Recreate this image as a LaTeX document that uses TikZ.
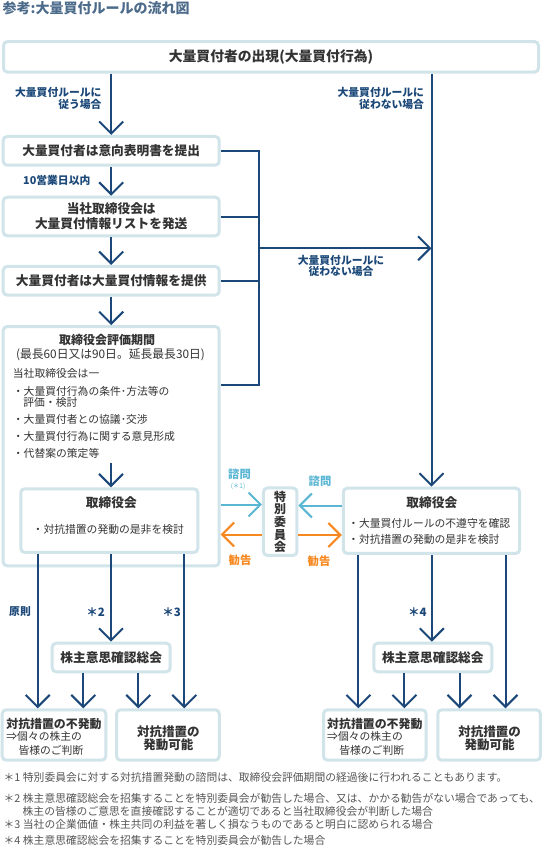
\documentclass[tikz,border=0pt]{standalone}
\usepackage{fontspec}
\setmainfont{Noto Sans CJK JP}
\usetikzlibrary{arrows.meta}
\newcommand{\myfs}[2]{\fontsize{#1}{#2}\selectfont}
\definecolor{bx}{HTML}{D0E4EA}
\definecolor{nv}{HTML}{1B4878}
\definecolor{lbl}{HTML}{5BB6D3}
\definecolor{og}{HTML}{F7881F}
\definecolor{tx}{HTML}{333333}
\definecolor{tt}{HTML}{4C6B8A}
\definecolor{fn}{HTML}{555555}
\tikzset{
  box/.style={draw=bx, line width=3pt, rounded corners=4pt, fill=white, inner sep=0pt, text=tx, align=center},
  bt/.style={text=tx, inner sep=0pt, font=\bfseries\myfs{12.7}{15}, align=center},
  rt/.style={text=tx, inner sep=0pt, font=\myfs{10.8}{13}, anchor=west},
  ln/.style={draw=nv, line width=2pt},
  arr/.style={ln, -{Straight Barb[length=12pt,width=24pt]}},
  barr/.style={draw=lbl, line width=2pt, -{Straight Barb[length=12pt,width=24pt]}},
  oarr/.style={draw=og, line width=2pt, -{Straight Barb[length=12pt,width=24pt]}},
  lab/.style={text=nv, inner sep=0pt, font=\bfseries\myfs{10.8}{11.6}},
  note/.style={text=fn, inner sep=0pt, anchor=west, font=\myfs{10.8}{13}}
}
\begin{document}
\begin{tikzpicture}[x=1pt,y=-1pt]
\useasboundingbox (0,0) rectangle (543,867);
\node[anchor=west, text=tt, inner sep=0pt, font=\bfseries\myfs{14}{16}] (title) at (2.5,8.5) {参考:大量買付ルールの流れ図};

% boxes
\node[box, minimum width=535pt, minimum height=30.5pt, font=\bfseries\myfs{13.8}{16}] (top) at (271,56.8) {大量買付者の出現(大量買付行為)};
\node[box, minimum width=216pt, minimum height=28.7pt, font=\bfseries\myfs{12.7}{15}] (b2) at (111.2,150.8) {大量買付者は意向表明書を提出};
\node[box, minimum width=216pt, minimum height=38.6pt, font=\bfseries\myfs{12.7}{15}] (b3) at (111.2,216.5) {当社取締役会は\\大量買付情報リストを発送};
\node[box, minimum width=216pt, minimum height=28.7pt, font=\bfseries\myfs{12.7}{15}] (b4) at (111.2,280.8) {大量買付者は大量買付情報を提供};
\node[box, minimum width=216pt, minimum height=239.3pt] (b5) at (111.2,446.2) {};
\node[box, minimum width=177pt, minimum height=63.7pt] (ib) at (109.3,520.6) {};
\node[box, minimum width=33.5pt, minimum height=67.5pt] (tok) at (280.2,521.7) {};
\node[box, minimum width=176.4pt, minimum height=65.3pt] (rb) at (431.5,520.8) {};
\node[box, minimum width=118pt, minimum height=28.6pt, font=\bfseries\myfs{12.7}{15}] (k1) at (111.2,657.5) {株主意思確認総会};
\node[box, minimum width=118pt, minimum height=28.6pt, font=\bfseries\myfs{12.7}{15}] (k2) at (432.8,657.5) {株主意思確認総会};
\node[box, minimum width=103.6pt, minimum height=50.4pt] (lb1) at (54,735) {};
\node[box, minimum width=102.7pt, minimum height=50.4pt] (lb2) at (167.9,735) {};
\node[box, minimum width=102.6pt, minimum height=50.4pt] (rb1) at (374.8,735) {};
\node[box, minimum width=102.6pt, minimum height=50.4pt] (rb2) at (489.1,735) {};

% texts inside boxes
\node[bt, font=\bfseries\myfs{12}{14}] (t5a) at (107,339.5) {取締役会評価期間};
\node[text=tx, inner sep=0pt, font=\myfs{11.8}{14}] (t5b) at (110.5,355) {(最長60日又は90日。延長最長30日)};
\node[rt] (t5c) at (12.7,373.3) {当社取締役会は一};
\node[rt] (t5d) at (12.7,391.7) {・大量買付行為の条件･方法等の};
\node[rt] (t5e) at (23.2,402.7) {評価・検討};
\node[rt] (t5f) at (12.7,419.3) {・大量買付者との協議･交渉};
\node[rt] (t5g) at (12.7,436.7) {・大量買付行為に関する意見形成};
\node[rt] (t5h) at (12.7,453.3) {・代替案の策定等};

\node[bt] (tib1) at (111.3,502.7) {取締役会};
\node[text=tx, inner sep=0pt, font=\myfs{10.8}{13}] (tib2) at (108.3,529) {・対抗措置の発動の是非を検討};

\node[bt, font=\bfseries\myfs{12}{12.6}] (ttok) at (280.2,522) {特\\別\\委\\員\\会};

\node[bt] (trb1) at (431.8,502.7) {取締役会};
\node[rt] (trb2) at (348,523.3) {・大量買付ルールの不遵守を確認};
\node[rt] (trb3) at (348,539) {・対抗措置の発動の是非を検討};

\node[bt, anchor=west, font=\bfseries\myfs{11.9}{14}] (tl1) at (6.2,724) {対抗措置の不発動};
\node[rt, font=\myfs{10.8}{13}] (tl2) at (6.2,736.7) {⇒個々の株主の};
\node[rt, font=\myfs{10.8}{13}] (tl3) at (18.3,750) {皆様のご判断};
\node[bt, font=\bfseries\myfs{12.5}{13.3}] (tl4) at (168.3,738.3) {対抗措置の\\発動可能};

\node[bt, anchor=west, font=\bfseries\myfs{11.9}{14}] (tr1) at (327,724) {対抗措置の不発動};
\node[rt, font=\myfs{10.8}{13}] (tr2) at (327,736.7) {⇒個々の株主の};
\node[rt, font=\myfs{10.8}{13}] (tr3) at (339.1,750) {皆様のご判断};
\node[bt, font=\bfseries\myfs{12.5}{13.3}] (tr4) at (489.5,738.3) {対抗措置の\\発動可能};

% labels
\node[lab, anchor=east, align=right] (l1) at (101.7,98.3) {大量買付ルールに\\従う場合};
\node[lab, anchor=east, align=right] (l2) at (424.2,98.3) {大量買付ルールに\\従わない場合};
\node[lab, align=center, font=\bfseries\myfs{10.8}{11.7}] (l3) at (341,265.8) {大量買付ルールに\\従わない場合};
\node[lab, anchor=west] (l4) at (23,180) {10営業日以内};
\node[lab] (l5) at (20,611.7) {原則};
\node[lab, font=\bfseries\myfs{11.5}{12}] (l6) at (95.7,611.7) {＊2};
\node[lab, font=\bfseries\myfs{11.5}{12}] (l7) at (171.7,611.7) {＊3};
\node[lab, font=\bfseries\myfs{11.5}{12}] (l8) at (417.3,611.7) {＊4};
\node[text=lbl, inner sep=0pt, font=\bfseries\myfs{11.3}{12}] (s1) at (239.5,474) {諮問};
\node[text=lbl, inner sep=0pt, font=\myfs{6.5}{7}] (s1n) at (238,486.5) {(＊1)};
\node[text=lbl, inner sep=0pt, font=\bfseries\myfs{11.3}{12}] (s2) at (320,481) {諮問};
\node[text=og, inner sep=0pt, font=\bfseries\myfs{11.3}{12}] (g1) at (240,560.5) {勧告};
\node[text=og, inner sep=0pt, font=\bfseries\myfs{11.3}{12}] (g2) at (319,561) {勧告};

% footnotes
\node[note] (n1) at (3.5,777.3) {＊1 特別委員会に対する対抗措置発動の諮問は、取締役会評価期間の経過後に行われることもあります。};
\node[note] (n2) at (3.5,798.3) {＊2 株主意思確認総会を招集することを特別委員会が勧告した場合、又は、かかる勧告がない場合であっても、};
\node[note] (n2b) at (22.5,811) {株主の皆様のご意思を直接確認することが適切であると当社取締役会が判断した場合};
\node[note] (n3) at (3.5,824) {＊3 当社の企業価値・株主共同の利益を著しく損なうものであると明白に認められる場合};
\node[note] (n4) at (3.5,840) {＊4 株主意思確認総会を招集することを特別委員会が勧告した場合};

% connectors
\draw[arr] (b2.north |- top.south) -- (b2.north);
\draw[arr] (rb.north |- top.south) -- (rb.north);
\draw[arr] (b2.south) -- (b3.north);
\draw[arr] (b3.south) -- (b4.north);
\draw[arr] (b4.south) -- (b5.north);
\coordinate (jb) at (259.3,385);
\coordinate (ja) at (259.3,248.3);
\draw[ln] (b2.east) -| (jb) -- (b5.east |- jb);
\draw[ln] (b3.east) -- (b3.east -| jb);
\draw[ln] (b4.east) -- (b4.east -| jb);
\draw[arr] (ja) -- (ja -| rb.north);
\coordinate (c5) at (111,462.7);
\draw[arr] (c5) -- (c5 |- ib.north);

\draw[barr] ([yshift=17.2pt]tok.west -| b5.east) -- ([yshift=17.2pt]tok.west);
\draw[oarr] ([yshift=-12.8pt]tok.west) -- ([yshift=-12.8pt]tok.west -| b5.east);
\draw[barr] ([yshift=16.2pt]tok.east -| rb.west) -- ([yshift=16.2pt]tok.east);
\draw[oarr] ([yshift=-13.3pt]tok.east) -- ([yshift=-13.3pt]tok.east -| rb.west);

\coordinate (d1) at (37.7,554);
\coordinate (d2) at (111,554);
\coordinate (d3) at (184.3,554);
\draw[arr] (d1) -- (d1 |- lb1.north);
\draw[arr] (d2) -- (d2 |- k1.north);
\draw[arr] (d3) -- (d3 |- lb2.north);
\coordinate (e1) at (83.3,673.3);
\coordinate (e2) at (138.3,673.3);
\draw[arr] (e1) -- (e1 |- lb1.north);
\draw[arr] (e2) -- (e2 |- lb2.north);

\coordinate (d4) at (358.4,555);
\coordinate (d5) at (431.8,555);
\coordinate (d6) at (505.5,555);
\draw[arr] (d4) -- (d4 |- rb1.north);
\draw[arr] (d5) -- (d5 |- k2.north);
\draw[arr] (d6) -- (d6 |- rb2.north);
\coordinate (e3) at (404.4,673.3);
\coordinate (e4) at (459.5,673.3);
\draw[arr] (e3) -- (e3 |- rb1.north);
\draw[arr] (e4) -- (e4 |- rb2.north);
\end{tikzpicture}
\end{document}
